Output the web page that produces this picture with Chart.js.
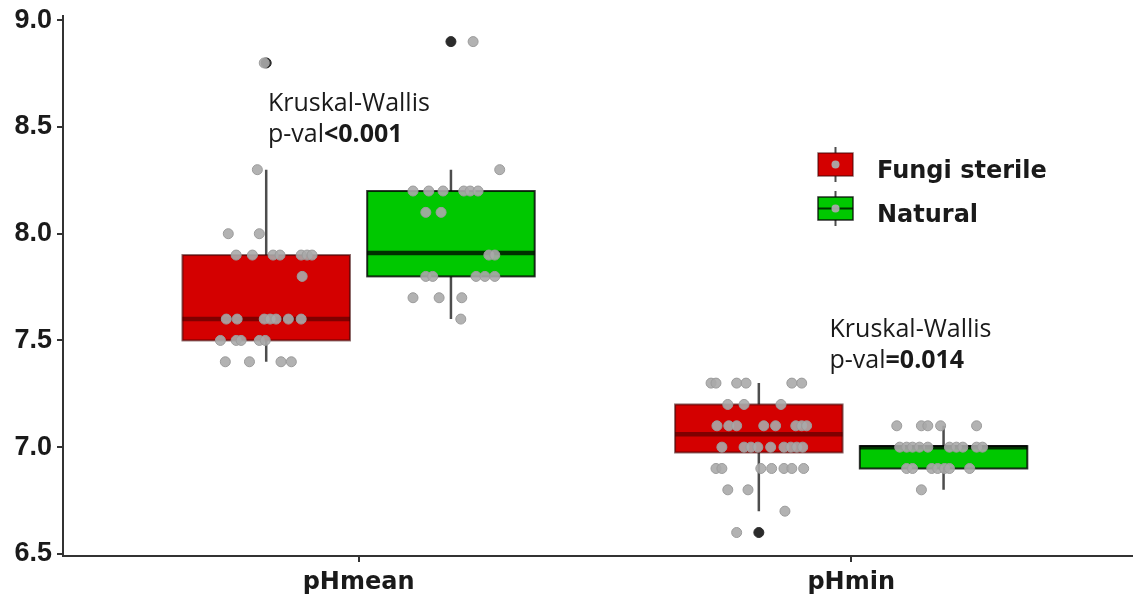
<!DOCTYPE html>
<html>
<head>
<meta charset="utf-8">
<script src="https://cdn.jsdelivr.net/npm/chart.js@4.4.1/dist/chart.umd.min.js"></script>
<style>
  html, body { margin: 0; padding: 0; background: #fff; }
  #wrap { width: 1138px; height: 605px; }
</style>
</head>
<body>
<div id="wrap"><canvas id="phChart"></canvas></div>
<script>
// ---------------------------Data------------------------------------------------
const categories = ["pHmean", "pHmin"];
const groups = ["Fungi sterile", "Natural"];
const yTicks = [6.5, 7.0, 7.5, 8.0, 8.5, 9.0];
const pValues = ["<0.001", "=0.014"];

// [lower whisker, q1, median, q3, upper whisker] per category
const fungiStats = [[7.4, 7.5, 7.6, 7.9, 8.3], [6.7, 6.975, 7.06, 7.2, 7.3]];
const naturalStats = [[7.6, 7.8, 7.91, 8.2, 8.3], [6.8, 6.9, 7.0, 7.005, 7.1]];
const fungiOutliers = [[8.8], [6.6]];
const naturalOutliers = [[8.9], []];

// observations and their jitter (offset from box centre, in category units)
const fungiMeanY = [8.8, 8.3, 8.0, 8.0, 7.9, 7.9, 7.9, 7.9, 7.9, 7.9, 7.9, 7.8,
  7.6, 7.6, 7.6, 7.6, 7.6, 7.6, 7.6, 7.5, 7.5, 7.5, 7.5, 7.5, 7.4, 7.4, 7.4, 7.4];
const fungiMeanJit = [-0.004, -0.018, -0.077, -0.014, -0.061, -0.028, 0.014, 0.028, 0.071, 0.083, 0.093, 0.073,
  -0.081, -0.059, -0.004, 0.008, 0.020, 0.045, 0.071, -0.093, -0.061, -0.051, -0.014, -0.002, -0.083, -0.034, 0.030, 0.051];

const naturalMeanY = [8.9, 8.3, 8.2, 8.2, 8.2, 8.2, 8.2, 8.2, 8.1, 8.1, 7.9, 7.9,
  7.8, 7.8, 7.8, 7.8, 7.8, 7.7, 7.7, 7.7, 7.6];
const naturalMeanJit = [0.045, 0.099, -0.077, -0.045, -0.016, 0.026, 0.039, 0.055, -0.051, -0.020, 0.077, 0.089,
  -0.051, -0.037, 0.051, 0.069, 0.089, -0.077, -0.024, 0.022, 0.020];

const fungiMinY = [7.3, 7.3, 7.3, 7.3, 7.3, 7.3, 7.2, 7.2, 7.2,
  7.1, 7.1, 7.1, 7.1, 7.1, 7.1, 7.1, 7.1,
  7.0, 7.0, 7.0, 7.0, 7.0, 7.0, 7.0, 7.0, 7.0,
  6.9, 6.9, 6.9, 6.9, 6.9, 6.9, 6.9, 6.8, 6.8, 6.7, 6.6];
const fungiMinJit = [-0.097, -0.087, -0.045, -0.026, 0.067, 0.087, -0.063, -0.030, 0.045,
  -0.085, -0.061, -0.045, 0.010, 0.034, 0.075, 0.087, 0.097,
  -0.075, -0.030, -0.016, -0.002, 0.024, 0.051, 0.065, 0.077, 0.089,
  -0.087, -0.075, 0.004, 0.026, 0.051, 0.067, 0.091, -0.063, -0.022, 0.053, -0.045];

const naturalMinY = [7.1, 7.1, 7.1, 7.1, 7.1,
  7.0, 7.0, 7.0, 7.0, 7.0, 7.0, 7.0, 7.0, 7.0, 7.0,
  6.9, 6.9, 6.9, 6.9, 6.9, 6.9, 6.9, 6.8];
const naturalMinJit = [-0.095, -0.045, -0.032, -0.006, 0.067,
  -0.089, -0.075, -0.063, -0.049, -0.032, 0.012, 0.026, 0.039, 0.067, 0.079,
  -0.075, -0.063, -0.024, -0.012, 0.002, 0.012, 0.053, -0.045];
// ----------------------------------------------------------------------------------------------

const dodge = 0.1875;      // group offset from category centre
const boxWidth = 0.34;
const fills = ["#d40000", "#00c800"];
const allStats = [fungiStats, naturalStats];

const toPoints = (cat, g, ys, jits) =>
  ys.map((y, i) => ({ x: cat + 1 + (g ? dodge : -dodge) + jits[i], y: y }));

const outlierPoints = [];
[fungiOutliers, naturalOutliers].forEach((outs, g) => {
  outs.forEach((vals, c) => vals.forEach(v => outlierPoints.push({ x: c + 1 + (g ? dodge : -dodge), y: v })));
});

const pointStyle = {
  pointRadius: 5,
  pointBackgroundColor: "rgba(170,170,170,0.9)",
  pointBorderColor: "#9b9b9b",
  pointBorderWidth: 1,
};

// Boxes and whiskers, drawn under the jittered points
const boxPlugin = {
  id: "boxes",
  beforeDatasetsDraw(chart) {
    const { ctx, scales: { x, y } } = chart;
    ctx.save();
    allStats.forEach((stats, g) => {
      stats.forEach((s, c) => {
        const centre = c + 1 + (g ? dodge : -dodge);
        const left = x.getPixelForValue(centre - boxWidth / 2);
        const right = x.getPixelForValue(centre + boxWidth / 2);
        const mid = x.getPixelForValue(centre);
        // whiskers
        ctx.strokeStyle = "#4d4d4d";
        ctx.lineWidth = 2.5;
        ctx.beginPath();
        ctx.moveTo(mid, y.getPixelForValue(s[0]));
        ctx.lineTo(mid, y.getPixelForValue(s[1]));
        ctx.moveTo(mid, y.getPixelForValue(s[3]));
        ctx.lineTo(mid, y.getPixelForValue(s[4]));
        ctx.stroke();
        // box
        const top = y.getPixelForValue(s[3]);
        const bottom = y.getPixelForValue(s[1]);
        ctx.fillStyle = fills[g];
        ctx.fillRect(left, top, right - left, bottom - top);
        ctx.strokeStyle = g ? "rgba(0,0,0,0.8)" : "rgba(60,0,0,0.6)";
        ctx.lineWidth = 2;
        ctx.strokeRect(left, top, right - left, bottom - top);
        // median
        ctx.strokeStyle = g ? "rgba(0,0,0,0.75)" : "rgba(40,0,0,0.5)";
        ctx.lineWidth = 4.5;
        ctx.beginPath();
        ctx.moveTo(left, y.getPixelForValue(s[2]));
        ctx.lineTo(right, y.getPixelForValue(s[2]));
        ctx.stroke();
      });
    });
    ctx.restore();
  },
  afterDraw(chart) {
    const { ctx, scales: { x, y } } = chart;
    ctx.save();
    // Kruskal-Wallis notes
    const noteX = [0.816, 1.956];
    const noteY = [8.576, 7.518];
    pValues.forEach((p, i) => {
      const px = x.getPixelForValue(noteX[i]);
      const py = y.getPixelForValue(noteY[i]);
      ctx.fillStyle = "#1a1a1a";
      ctx.textBaseline = "alphabetic";
      ctx.textAlign = "left";
      ctx.font = '25px "Open Sans"';
      ctx.fillText("Kruskal-Wallis", px, py);
      ctx.fillText("p-val", px, py + 31);
      const w = ctx.measureText("p-val").width;
      ctx.font = 'bold 25px "Open Sans"';
      ctx.fillText(p, px + w, py + 31);
    });

    // legend
    const lx = 818, lw = 35, lh = 23;
    const rows = [153, 197];
    groups.forEach((name, g) => {
      const ty = rows[g];
      const cx = lx + lw / 2;
      ctx.strokeStyle = "#4d4d4d";
      ctx.lineWidth = 2;
      ctx.beginPath();
      ctx.moveTo(cx, ty - 6);
      ctx.lineTo(cx, ty + lh + 6);
      ctx.stroke();
      ctx.fillStyle = fills[g];
      ctx.fillRect(lx, ty, lw, lh);
      ctx.strokeStyle = g ? "rgba(0,0,0,0.8)" : "rgba(60,0,0,0.6)";
      ctx.lineWidth = 1.5;
      ctx.strokeRect(lx, ty, lw, lh);
      if (g) {
        ctx.strokeStyle = "rgba(0,0,0,0.75)";
        ctx.lineWidth = 2;
        ctx.beginPath();
        ctx.moveTo(lx, ty + lh / 2);
        ctx.lineTo(lx + lw, ty + lh / 2);
        ctx.stroke();
      }
      ctx.fillStyle = "rgba(170,170,170,0.95)";
      ctx.beginPath();
      ctx.arc(cx, ty + lh / 2, 4, 0, Math.PI * 2);
      ctx.fill();
      ctx.fillStyle = "#1a1a1a";
      ctx.font = 'bold 24px "DejaVu Sans"';
      ctx.fillText(name, 877, ty + 25 - 0.5 * g);
    });
    ctx.restore();
  },
};

const ctx = document.getElementById("phChart").getContext("2d");
new Chart(ctx, {
  type: "scatter",
  data: {
    datasets: [
      {
        label: "Fungi sterile",
        data: toPoints(0, 0, fungiMeanY, fungiMeanJit).concat(toPoints(1, 0, fungiMinY, fungiMinJit)),
        ...pointStyle,
      },
      {
        label: "Natural",
        data: toPoints(0, 1, naturalMeanY, naturalMeanJit).concat(toPoints(1, 1, naturalMinY, naturalMinJit)),
        ...pointStyle,
      },
      {
        label: "Outliers",
        data: outlierPoints,
        pointRadius: 5,
        pointBackgroundColor: "#2b2b2b",
        pointBorderColor: "#2b2b2b",
        pointBorderWidth: 1,
      },
    ],
  },
  options: {
    responsive: true,
    maintainAspectRatio: false,
    animation: false,
    layout: { padding: { top: 16, right: 0, left: 0, bottom: 0 } },
    plugins: { legend: { display: false }, tooltip: { enabled: false } },
    scales: {
      x: {
        type: "linear",
        min: 0.4,
        max: 2.57,
        afterBuildTicks: (scale) => { scale.ticks = categories.map((_, i) => ({ value: i + 1 })); },
        afterFit: (scale) => { scale.height = 49; scale.paddingLeft = 0; scale.paddingRight = 0; },
        ticks: {
          autoSkip: false,
          maxRotation: 0,
          padding: 6,
          color: "#1a1a1a",
          font: { family: '"DejaVu Sans"', size: 24, weight: "bold" },
          callback: (value, index) => categories[index],
        },
        grid: { drawOnChartArea: false, drawTicks: true, tickLength: 6, color: "#333", lineWidth: 2 },
        border: { display: true, color: "#333", width: 2 },
      },
      y: {
        min: 6.49,
        max: 9.02,
        afterBuildTicks: (scale) => { scale.ticks = yTicks.map(v => ({ value: v })); },
        afterFit: (scale) => { scale.width = 63; scale.paddingTop = 0; scale.paddingBottom = 0; },
        ticks: {
          padding: 5,
          color: "#1a1a1a",
          font: { family: '"Liberation Sans"', size: 27, weight: "bold" },
          callback: (value) => value.toFixed(1),
        },
        grid: { drawOnChartArea: false, drawTicks: true, tickLength: 6, color: "#333", lineWidth: 2 },
        border: { display: true, color: "#333", width: 2 },
      },
    },
  },
  plugins: [boxPlugin],
});
</script>
</body>
</html>
